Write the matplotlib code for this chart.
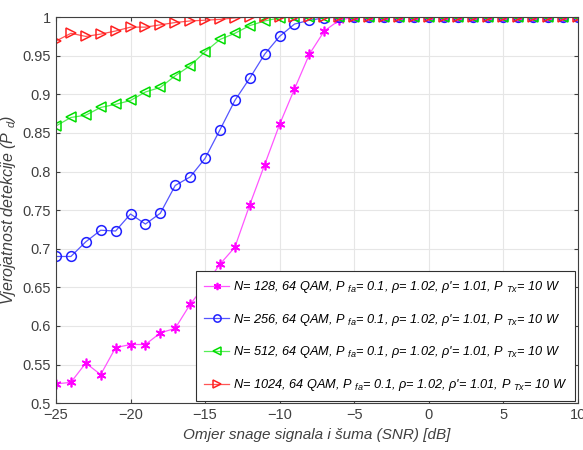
import numpy as np
import matplotlib.pyplot as plt

# SNR axis [dB]
snr = np.arange(-25, 11)

# Pd values (-25 ... 10 dB)
pd_128 = [0.525, 0.527, 0.552, 0.537, 0.572, 0.576, 0.576, 0.591, 0.597, 0.628,
          0.653, 0.680, 0.702, 0.757, 0.809, 0.861, 0.907, 0.952, 0.982, 0.996] + [1.0] * 16
pd_256 = [0.690, 0.690, 0.709, 0.724, 0.723, 0.745, 0.732, 0.746, 0.782, 0.793,
          0.817, 0.854, 0.892, 0.921, 0.952, 0.975, 0.991, 0.996, 0.999] + [1.0] * 17
pd_512 = [0.859, 0.870, 0.873, 0.883, 0.887, 0.892, 0.903, 0.909, 0.924, 0.937,
          0.955, 0.971, 0.979, 0.989, 0.995, 0.999] + [1.0] * 20
pd_1024 = [0.969, 0.979, 0.975, 0.978, 0.982, 0.987, 0.987, 0.990, 0.993, 0.995,
           0.996, 0.997, 0.999] + [1.0] * 23

tail = r", 64 QAM, P $_{fa}$= 0.1, ρ= 1.02, ρ'= 1.01, P $_{Tx}$= 10 W"
labels = ["N= 128" + tail, "N= 256" + tail, "N= 512" + tail, "N= 1024" + tail]

plt.rcParams['font.family'] = ['Liberation Sans', 'DejaVu Sans']
plt.rcParams['mathtext.fontset'] = 'custom'
plt.rcParams['mathtext.rm'] = 'Liberation Sans:italic'
plt.rcParams['mathtext.it'] = 'Liberation Sans:italic'

fig = plt.figure(figsize=(5.83, 4.5), dpi=100)
ax = fig.add_axes([0.096, 0.104, 0.895, 0.858])

asterisk = (6, 2, 0)
ax.plot(snr, pd_128, color='#ff55ff', lw=0.9, marker=asterisk, ms=7, mew=1.2,
        mec='#ff00ff', label=labels[0])
ax.plot(snr, pd_256, color='#5555ff', lw=0.9, marker='o', ms=7, mfc='none',
        mec='#2020ff', mew=1.1, label=labels[1])
ax.plot(snr, pd_512, color='#55ee55', lw=0.9, marker='<', ms=7.5, mfc='none',
        mec='#00dd00', mew=1.1, label=labels[2])
ax.plot(snr, pd_1024, color='#ff5555', lw=0.9, marker='>', ms=7.5, mfc='none',
        mec='#ff2020', mew=1.1, label=labels[3])

ax.set_xlim(-25, 10)
ax.set_ylim(0.5, 1.0)
ax.set_xticks(np.arange(-25, 11, 5))
ax.set_yticks(np.arange(0.5, 1.001, 0.05))
ax.set_yticklabels(['0.5', '0.55', '0.6', '0.65', '0.7', '0.75', '0.8',
                    '0.85', '0.9', '0.95', '1'])
ax.tick_params(direction='in', colors='#404040', labelsize=10.5, top=True, right=True,
               length=3)
for s in ax.spines.values():
    s.set_color('#404040')
    s.set_linewidth(0.8)
ax.grid(True, color='#e6e6e6', lw=0.8)
ax.set_axisbelow(True)

ax.set_xlabel('Omjer snage signala i šuma (SNR) [dB]', style='italic',
              color='#404040', fontsize=11)
ax.set_ylabel(r'Vjerojatnost detekcije (P $_{d}$)', style='italic',
              color='#404040', fontsize=11.5, labelpad=3)

leg = ax.legend(loc='lower right', fontsize=9.2, frameon=True, fancybox=False,
                edgecolor='#303030', framealpha=1, handlelength=2.0,
                handletextpad=0.3, borderaxespad=0.2, labelspacing=1.3,
                borderpad=0.6, markerscale=0.75)
for t in leg.get_texts():
    t.set_style('italic')
leg.get_frame().set_linewidth(0.8)

fig.savefig('out.png', dpi=100)
